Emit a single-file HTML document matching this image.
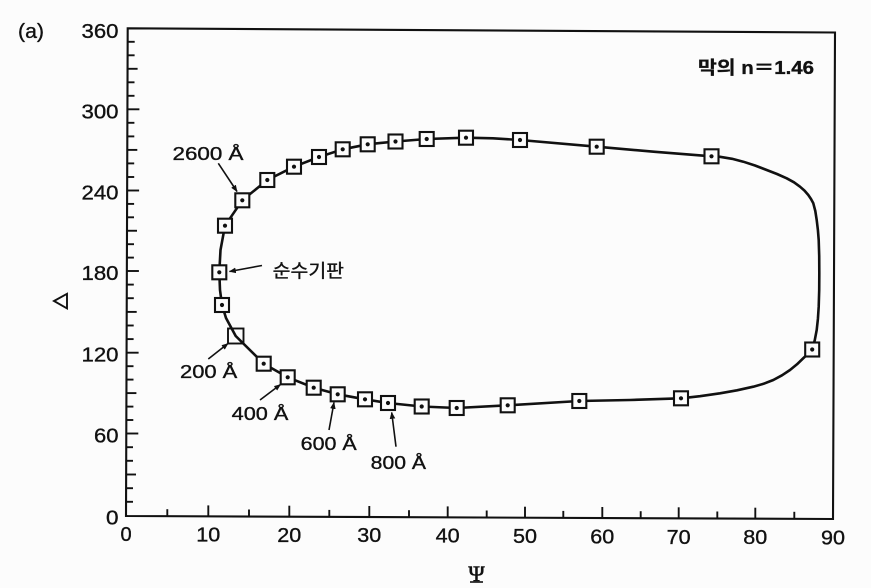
<!DOCTYPE html>
<html>
<head>
<meta charset="utf-8">
<style>
  html,body{margin:0;padding:0;background:#fcfcfc;}
  svg{display:block;}
  text{font-family:"Liberation Sans","Noto Sans CJK KR",sans-serif;fill:#111;stroke:#111;stroke-width:0.35;}
</style>
</head>
<body>
<svg width="871" height="588" viewBox="0 0 871 588" xmlns="http://www.w3.org/2000/svg">
  <defs>
    <marker id="ah" viewBox="0 0 10 10" refX="9" refY="5" markerWidth="7" markerHeight="7" orient="auto" markerUnits="userSpaceOnUse">
      <path d="M0,1 L10,5 L0,9 Z" fill="#111"/>
    </marker>
  </defs>
  <rect x="0" y="0" width="871" height="588" fill="#fcfcfc"/>

  <!-- frame -->
  <polygon points="127.7,28.3 835,32.5 833,519 126,516" fill="none" stroke="#111" stroke-width="2.1"/>

  <!-- left ticks -->
  <g stroke="#111" stroke-width="1.9">
    <line x1="126" y1="501.8" x2="133" y2="501.8"/>
    <line x1="126" y1="488.2" x2="133" y2="488.2"/>
    <line x1="126" y1="474.5" x2="136" y2="474.5"/>
    <line x1="126" y1="460.8" x2="133" y2="460.8"/>
    <line x1="126" y1="447.2" x2="133" y2="447.2"/>
    <line x1="126.3" y1="433.5" x2="138.3" y2="433.5"/>
    <line x1="126.3" y1="420" x2="133.3" y2="420"/>
    <line x1="126.4" y1="406.6" x2="133.4" y2="406.6"/>
    <line x1="126.4" y1="393.1" x2="136.4" y2="393.1"/>
    <line x1="126.5" y1="379.6" x2="133.5" y2="379.6"/>
    <line x1="126.5" y1="366.2" x2="133.5" y2="366.2"/>
    <line x1="126.6" y1="352.7" x2="138.6" y2="352.7"/>
    <line x1="126.6" y1="339.1" x2="133.6" y2="339.1"/>
    <line x1="126.7" y1="325.5" x2="133.7" y2="325.5"/>
    <line x1="126.7" y1="311.9" x2="136.7" y2="311.9"/>
    <line x1="126.8" y1="298.2" x2="133.8" y2="298.2"/>
    <line x1="126.8" y1="284.6" x2="133.8" y2="284.6"/>
    <line x1="126.9" y1="271" x2="138.9" y2="271"/>
    <line x1="126.9" y1="257.6" x2="133.9" y2="257.6"/>
    <line x1="127" y1="244.2" x2="134" y2="244.2"/>
    <line x1="127" y1="230.75" x2="137" y2="230.75"/>
    <line x1="127" y1="217.3" x2="134" y2="217.3"/>
    <line x1="127.1" y1="203.9" x2="134.1" y2="203.9"/>
    <line x1="127.1" y1="190.5" x2="139.1" y2="190.5"/>
    <line x1="127.2" y1="177" x2="134.2" y2="177"/>
    <line x1="127.2" y1="163.4" x2="134.2" y2="163.4"/>
    <line x1="127.3" y1="149.9" x2="137.3" y2="149.9"/>
    <line x1="127.3" y1="136.4" x2="134.3" y2="136.4"/>
    <line x1="127.4" y1="122.8" x2="134.4" y2="122.8"/>
    <line x1="127.4" y1="109.3" x2="139.4" y2="109.3"/>
    <line x1="127.5" y1="95.8" x2="134.5" y2="95.8"/>
    <line x1="127.5" y1="82.3" x2="134.5" y2="82.3"/>
    <line x1="127.6" y1="68.8" x2="137.6" y2="68.8"/>
    <line x1="127.6" y1="55.3" x2="134.6" y2="55.3"/>
    <line x1="127.7" y1="41.8" x2="134.7" y2="41.8"/>
  </g>

  <!-- bottom ticks -->
  <g stroke="#111" stroke-width="1.9">
    <line x1="167.3" y1="516.2" x2="167.3" y2="509.2"/>
    <line x1="208.3" y1="516.4" x2="208.3" y2="505.4"/>
    <line x1="249" y1="516.5" x2="249" y2="509.5"/>
    <line x1="289.3" y1="516.7" x2="289.3" y2="505.7"/>
    <line x1="329.3" y1="516.9" x2="329.3" y2="509.9"/>
    <line x1="369.3" y1="517" x2="369.3" y2="506"/>
    <line x1="409" y1="517.2" x2="409" y2="510.2"/>
    <line x1="447.7" y1="517.4" x2="447.7" y2="506.4"/>
    <line x1="486.7" y1="517.5" x2="486.7" y2="510.5"/>
    <line x1="525" y1="517.7" x2="525" y2="506.7"/>
    <line x1="563.3" y1="517.9" x2="563.3" y2="510.9"/>
    <line x1="602.3" y1="518" x2="602.3" y2="507"/>
    <line x1="640.7" y1="518.2" x2="640.7" y2="511.2"/>
    <line x1="678.7" y1="518.3" x2="678.7" y2="507.3"/>
    <line x1="717.3" y1="518.5" x2="717.3" y2="511.5"/>
    <line x1="755.3" y1="518.7" x2="755.3" y2="507.7"/>
    <line x1="794.3" y1="518.8" x2="794.3" y2="511.8"/>
  </g>

  <!-- y tick labels -->
  <g font-size="20" text-anchor="end">
    <text x="118.5" y="38" textLength="37" lengthAdjust="spacingAndGlyphs">360</text>
    <text x="118.5" y="118.3" textLength="37" lengthAdjust="spacingAndGlyphs">300</text>
    <text x="118.5" y="199.5" textLength="37" lengthAdjust="spacingAndGlyphs">240</text>
    <text x="118.5" y="280" textLength="37" lengthAdjust="spacingAndGlyphs">180</text>
    <text x="118.5" y="361.7" textLength="37" lengthAdjust="spacingAndGlyphs">120</text>
    <text x="118.5" y="442.5" textLength="24.5" lengthAdjust="spacingAndGlyphs">60</text>
    <text x="118.5" y="524.5" textLength="12.5" lengthAdjust="spacingAndGlyphs">0</text>
  </g>

  <!-- x tick labels -->
  <g font-size="20" text-anchor="middle">
    <text x="126" y="541">0</text>
    <text x="208.3" y="541.4" textLength="24" lengthAdjust="spacingAndGlyphs">10</text>
    <text x="289.3" y="541.8" textLength="24" lengthAdjust="spacingAndGlyphs">20</text>
    <text x="369.3" y="542.2" textLength="24" lengthAdjust="spacingAndGlyphs">30</text>
    <text x="447.7" y="542.6" textLength="24" lengthAdjust="spacingAndGlyphs">40</text>
    <text x="525" y="543" textLength="24" lengthAdjust="spacingAndGlyphs">50</text>
    <text x="602.3" y="543.4" textLength="24" lengthAdjust="spacingAndGlyphs">60</text>
    <text x="678.7" y="543.8" textLength="24" lengthAdjust="spacingAndGlyphs">70</text>
    <text x="755.3" y="544.2" textLength="24" lengthAdjust="spacingAndGlyphs">80</text>
    <text x="833" y="544.6" textLength="24" lengthAdjust="spacingAndGlyphs">90</text>
  </g>

  <!-- axis titles -->
  <polygon points="54,301 67,293.8 67,308.4" fill="none" stroke="#111" stroke-width="1.9" stroke-linejoin="miter"/>
  <text x="476.5" y="581" font-size="22" text-anchor="middle" style="font-family:'Liberation Serif','DejaVu Serif',serif;stroke-width:0.6;">Ψ</text>
  <line x1="470" y1="582" x2="483" y2="582" stroke="#111" stroke-width="1.6"/>
  <text x="18" y="38" font-size="20" textLength="26" lengthAdjust="spacingAndGlyphs">(a)</text>
  <text x="698" y="74" font-size="18" font-weight="bold" textLength="116" lengthAdjust="spacingAndGlyphs">막의 n＝1.46</text>

  <!-- curve -->
  <polyline fill="none" stroke="#111" stroke-width="2.6" stroke-linejoin="round" stroke-linecap="round"
    points="219.3,272.3 220.5,250 225,225.7 242.3,200.3 267.3,180 294,166.7 319,157 342.7,149.3 367.7,144.3 395.5,141.5 426.7,139 466,137.7 493,138.3 520,140 596.7,146.7 655,151.8 711.5,156.3 720,156.8 732,158.8 743.3,161.7 755,165.5 766.7,170 777,174 786.7,178.3 794,182.3 800,186.7 804.5,190.6 808.3,195 811,199 813.3,203.3 815.3,211 816.7,220 817.9,230 818.7,240 819.2,256 819.3,273.3 819.2,290 818.7,306.7 817.9,319 816.7,330 814.8,340 812.2,349.5 808,353.8 803.5,358 797,364.3 790,370 782,375.3 773.3,380 763.5,383.8 753.3,386.7 737,390.3 720,393.3 700,396.2 681,398.3 630,400 579.3,401 507.7,405.3 456.7,408 421.7,406.5 388,403 365,399.3 337.7,394.3 313.7,387.7 287.7,377.3 263.7,363.7 235.7,336 226,318 222,305 220,290 219.3,272.3"/>

  <!-- empty 200 A marker -->
  <rect x="228" y="328.5" width="15.5" height="15" fill="none" stroke="#111" stroke-width="1.9"/>

  <!-- markers with dots -->
  <g stroke="#111" stroke-width="2.1" fill="#fcfcfc">
    <rect x="212.3" y="265.3" width="14" height="14"/>
    <rect x="215" y="298" width="14" height="14"/>
    <rect x="218" y="218.7" width="14" height="14"/>
    <rect x="235.3" y="193.3" width="14" height="14"/>
    <rect x="260.3" y="173" width="14" height="14"/>
    <rect x="287" y="159.7" width="14" height="14"/>
    <rect x="312" y="150" width="14" height="14"/>
    <rect x="335.7" y="142.3" width="14" height="14"/>
    <rect x="360.7" y="137.3" width="14" height="14"/>
    <rect x="388.5" y="134.5" width="14" height="14"/>
    <rect x="419.7" y="132" width="14" height="14"/>
    <rect x="459" y="130.7" width="14" height="14"/>
    <rect x="513" y="133" width="14" height="14"/>
    <rect x="589.7" y="139.7" width="14" height="14"/>
    <rect x="704.5" y="149.3" width="14" height="14"/>
    <rect x="805.2" y="342.5" width="14" height="14"/>
    <rect x="674" y="391.3" width="14" height="14"/>
    <rect x="572.3" y="394" width="14" height="14"/>
    <rect x="500.7" y="398.3" width="14" height="14"/>
    <rect x="449.7" y="401" width="14" height="14"/>
    <rect x="414.7" y="399.5" width="14" height="14"/>
    <rect x="381" y="396" width="14" height="14"/>
    <rect x="358" y="392.3" width="14" height="14"/>
    <rect x="330.7" y="387.3" width="14" height="14"/>
    <rect x="306.7" y="380.7" width="14" height="14"/>
    <rect x="280.7" y="370.3" width="14" height="14"/>
    <rect x="256.7" y="356.7" width="14" height="14"/>
  </g>
  <g fill="#111">
    <circle cx="219.3" cy="272.3" r="2.1"/>
    <circle cx="222" cy="305" r="2.1"/>
    <circle cx="225" cy="225.7" r="2.1"/>
    <circle cx="242.3" cy="200.3" r="2.1"/>
    <circle cx="267.3" cy="180" r="2.1"/>
    <circle cx="294" cy="166.7" r="2.1"/>
    <circle cx="319" cy="157" r="2.1"/>
    <circle cx="342.7" cy="149.3" r="2.1"/>
    <circle cx="367.7" cy="144.3" r="2.1"/>
    <circle cx="395.5" cy="141.5" r="2.1"/>
    <circle cx="426.7" cy="139" r="2.1"/>
    <circle cx="466" cy="137.7" r="2.1"/>
    <circle cx="520" cy="140" r="2.1"/>
    <circle cx="596.7" cy="146.7" r="2.1"/>
    <circle cx="711.5" cy="156.3" r="2.1"/>
    <circle cx="812.2" cy="349.5" r="2.1"/>
    <circle cx="681" cy="398.3" r="2.1"/>
    <circle cx="579.3" cy="401" r="2.1"/>
    <circle cx="507.7" cy="405.3" r="2.1"/>
    <circle cx="456.7" cy="408" r="2.1"/>
    <circle cx="421.7" cy="406.5" r="2.1"/>
    <circle cx="388" cy="403" r="2.1"/>
    <circle cx="365" cy="399.3" r="2.1"/>
    <circle cx="337.7" cy="394.3" r="2.1"/>
    <circle cx="313.7" cy="387.7" r="2.1"/>
    <circle cx="287.7" cy="377.3" r="2.1"/>
    <circle cx="263.7" cy="363.7" r="2.1"/>
  </g>

  <!-- annotation arrows -->
  <g stroke="#111" stroke-width="1.6" fill="none">
    <line x1="218.3" y1="163.3" x2="237" y2="191.5" marker-end="url(#ah)"/>
    <line x1="262" y1="265.5" x2="229.5" y2="271.5" marker-end="url(#ah)"/>
    <line x1="208.3" y1="359" x2="228" y2="343.5" marker-end="url(#ah)"/>
    <line x1="260" y1="400" x2="280.5" y2="384.5" marker-end="url(#ah)"/>
    <line x1="329" y1="430" x2="334" y2="402.5" marker-end="url(#ah)"/>
    <line x1="396" y1="446.7" x2="391.7" y2="412.5" marker-end="url(#ah)"/>
  </g>

  <!-- annotation labels -->
  <g font-size="18.5">
    <text x="172.5" y="160" textLength="71" lengthAdjust="spacingAndGlyphs">2600 Å</text>
    <text x="272.7" y="277.5" textLength="71.3" lengthAdjust="spacingAndGlyphs">순수기판</text>
    <text x="180" y="378" textLength="57.3" lengthAdjust="spacingAndGlyphs">200 Å</text>
    <text x="231.7" y="420" textLength="56.7" lengthAdjust="spacingAndGlyphs">400 Å</text>
    <text x="300.7" y="450" textLength="56" lengthAdjust="spacingAndGlyphs">600 Å</text>
    <text x="370.7" y="469" textLength="55.3" lengthAdjust="spacingAndGlyphs">800 Å</text>
  </g>
</svg>
</body>
</html>
